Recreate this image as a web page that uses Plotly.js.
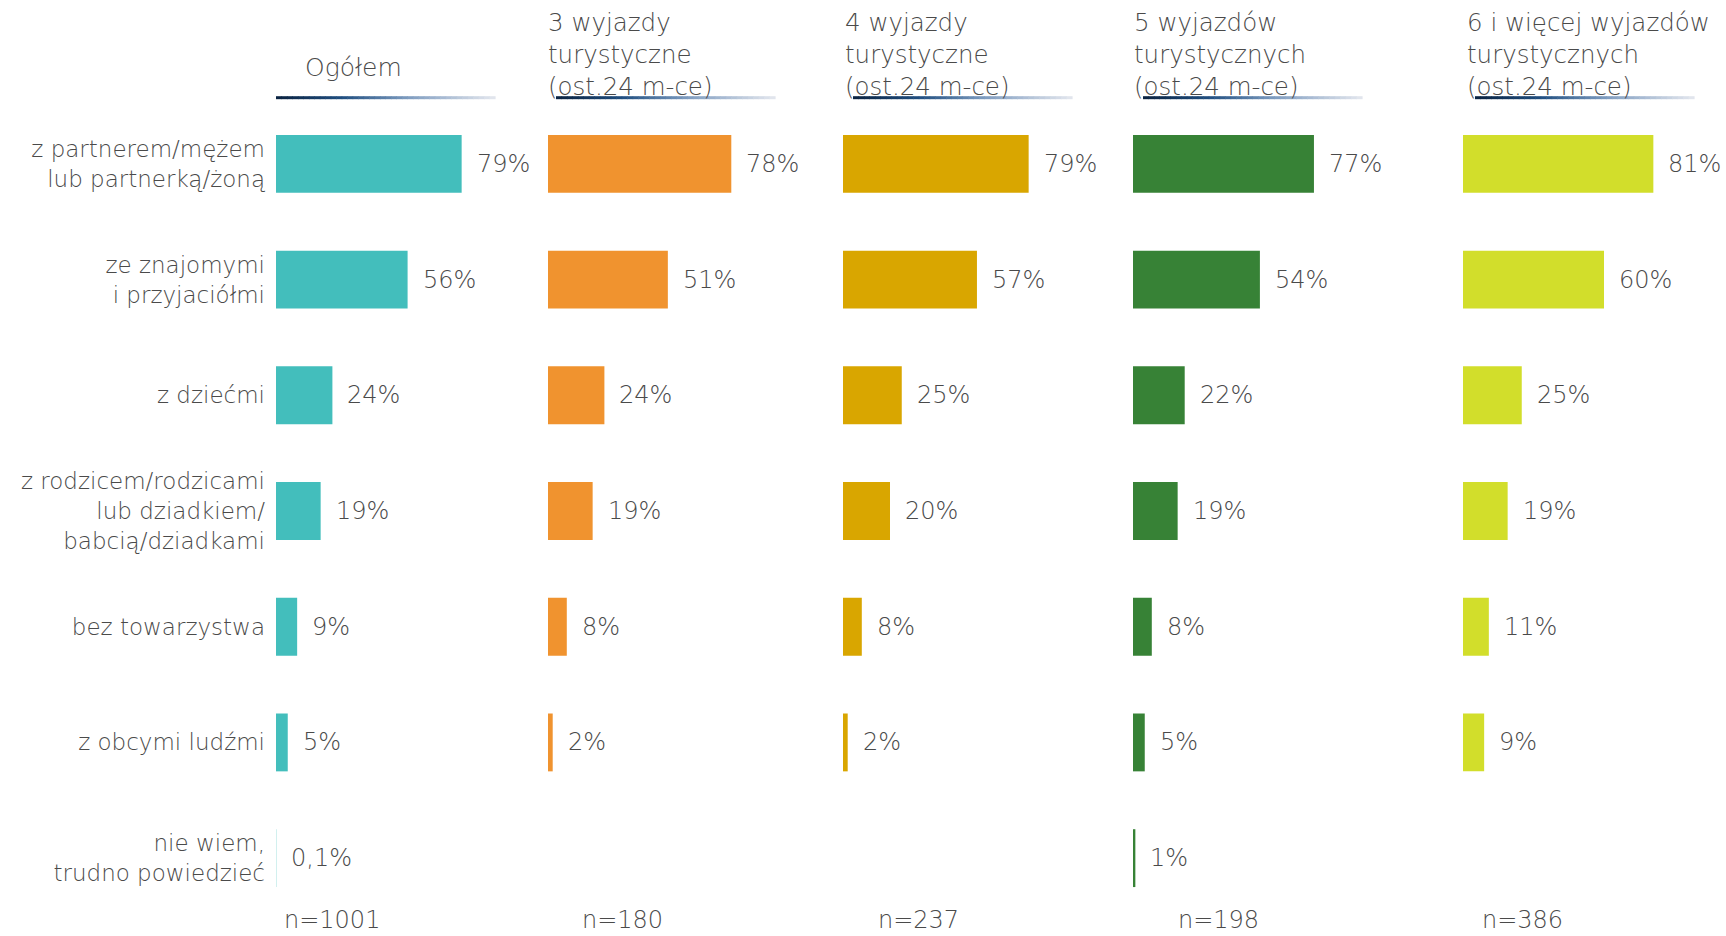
<!DOCTYPE html>
<html><head><meta charset="utf-8">
<script src="https://cdn.plot.ly/plotly-3.0.1.min.js"></script>
<style>html,body{margin:0;padding:0;background:#fff;overflow:hidden}</style>
</head><body><div id="chart" style="width:1726px;height:936px"></div>
<script>
// ---- data ----
const categories = [
  'z partnerem/mężem<br>lub partnerką/żoną',
  'ze znajomymi<br>i przyjaciółmi',
  'z dziećmi',
  'z rodzicem/rodzicami<br>lub dziadkiem/<br>babcią/dziadkami',
  'bez towarzystwa',
  'z obcymi ludźmi',
  'nie wiem,<br>trudno powiedzieć'
];
const groupTitles = [
  'Ogółem',
  '3 wyjazdy<br>turystyczne<br>(ost.24 m-ce)',
  '4 wyjazdy<br>turystyczne<br>(ost.24 m-ce)',
  '5 wyjazdów<br>turystycznych<br>(ost.24 m-ce)',
  '6 i więcej wyjazdów<br>turystycznych<br>(ost.24 m-ce)'
];
const sampleSizes = ['n=1001', 'n=180', 'n=237', 'n=198', 'n=386'];
const valuesOgolem = [79, 56, 24, 19, 9, 5, 0.1];
const values3 = [78, 51, 24, 19, 8, 2, null];
const values4 = [79, 57, 25, 20, 8, 2, null];
const values5 = [77, 54, 22, 19, 8, 5, 1];
const values6 = [81, 60, 25, 19, 11, 9, null];

// ---- styling / layout ----
const W = 1726, H = 936, MT = 106, MB = 20;
const PH = H - MT - MB;
const series = [valuesOgolem, values3, values4, values5, values6];
const colors = ['#43BEBC', '#F0932F', '#D9A600', '#378236', '#D2DE2B'];
const panelLeft = [276, 548, 843, 1133, 1463];
const panelSpan = 235;
const FONT = '"DejaVu Sans", "Open Sans", sans-serif';
const FW = 300;
const TXT = '#4a4a4a';
const px2x = px => px / W;
const px2y = py => (H - MB - py) / PH;

const traces = [];
const annotations = [];
const layout = {
  width: W, height: H,
  margin: {l: 0, r: 0, t: MT, b: MB, pad: 0},
  paper_bgcolor: '#ffffff', plot_bgcolor: 'rgba(0,0,0,0)',
  showlegend: false, bargap: 0.5,
  font: {family: FONT, color: TXT, size: 24, weight: FW},
  yaxis: {
    type: 'category', categoryorder: 'array', categoryarray: categories,
    autorange: 'reversed', anchor: 'x', domain: [0, 1],
    showgrid: false, zeroline: false, showline: false, ticks: '',
    ticklabelstandoff: 10,
    tickfont: {family: FONT, size: 23, color: TXT, weight: FW}
  },
  shapes: []
};

series.forEach((vals, i) => {
  const ax = i === 0 ? 'x' : 'x' + (i + 1);
  const axKey = i === 0 ? 'xaxis' : 'xaxis' + (i + 1);
  layout[axKey] = {
    domain: [px2x(panelLeft[i]), px2x(panelLeft[i] + panelSpan)],
    range: [0, 100], visible: false, fixedrange: true, anchor: 'y'
  };
  traces.push({
    type: 'bar', orientation: 'h',
    x: vals, y: categories, xaxis: ax, yaxis: 'y',
    marker: {color: colors[i], line: {width: 0}},
    hoverinfo: 'skip'
  });
  vals.forEach((v, j) => {
    if (v === null) return;
    annotations.push({
      xref: ax, yref: 'y', x: v, y: categories[j],
      text: String(v).replace('.', ',') + '%',
      showarrow: false, xanchor: 'left', yanchor: 'middle', xshift: 13,
      font: {family: FONT, size: 24, color: TXT, weight: FW}
    });
  });
});

// group headers
const headerX = [353, 546, 843, 1132, 1465];
groupTitles.forEach((t, i) => {
  if (i === 0) {
    annotations.push({xref: 'paper', yref: 'paper', x: px2x(headerX[i]), y: px2y(67),
      text: t, showarrow: false, xanchor: 'center', yanchor: 'middle',
      font: {family: FONT, size: 25, color: TXT, weight: FW}});
  } else {
    annotations.push({xref: 'paper', yref: 'paper', x: px2x(headerX[i]), y: px2y(6),
      text: t, showarrow: false, xanchor: 'left', yanchor: 'top', align: 'left',
      font: {family: FONT, size: 24.5, color: TXT, weight: FW}});
  }
});

// sample sizes
const nX = [332, 622, 919, 1218, 1522];
sampleSizes.forEach((t, i) => {
  annotations.push({xref: 'paper', yref: 'paper', x: px2x(nX[i]), y: px2y(920),
    text: t, showarrow: false, xanchor: 'center', yanchor: 'middle', borderpad: 0,
    font: {family: FONT, size: 24, color: TXT, weight: FW}});
});

// gradient underlines
const lineStart = [276, 556, 853, 1143, 1475];
const lineLen = 219;
const stops = [[0, [10, 34, 64]], [0.3, [31, 78, 128]], [0.6, [126, 156, 192]], [1, [228, 231, 238]]];
function gradColor(t) {
  for (let k = 0; k < stops.length - 1; k++) {
    const [t0, c0] = stops[k], [t1, c1] = stops[k + 1];
    if (t <= t1) {
      const f = (t - t0) / (t1 - t0);
      return 'rgb(' + c0.map((c, m) => Math.round(c + (c1[m] - c) * f)).join(',') + ')';
    }
  }
  return 'rgb(228,231,238)';
}
const NSEG = 40;
lineStart.forEach(s => {
  for (let k = 0; k < NSEG; k++) {
    const a = s + lineLen * k / NSEG, b = s + lineLen * (k + 1) / NSEG + 0.6;
    layout.shapes.push({type: 'line', xref: 'paper', yref: 'paper',
      x0: px2x(a), x1: px2x(b), y0: px2y(97.7), y1: px2y(97.7),
      line: {color: gradColor((k + 0.5) / NSEG), width: 3}});
  }
});

layout.annotations = annotations;
Plotly.newPlot('chart', traces, layout, {displayModeBar: false, staticPlot: true});
</script>
</body></html>
